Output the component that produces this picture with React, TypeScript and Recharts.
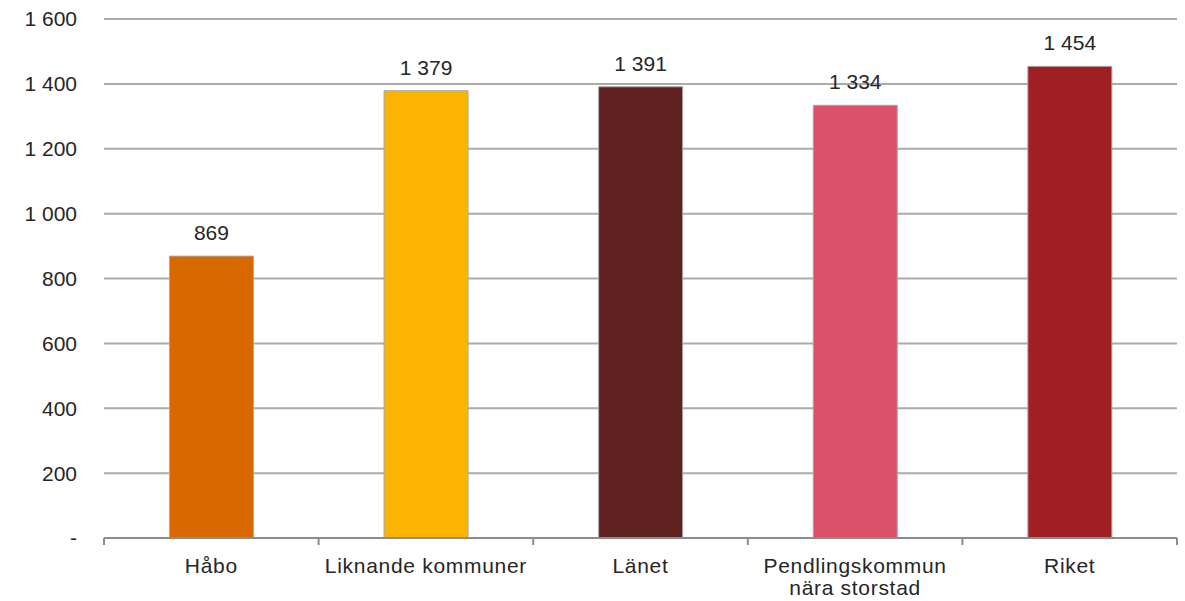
import { BarChart, Bar, XAxis, YAxis, CartesianGrid, Cell, LabelList } from "recharts";

const categories = ["Håbo", "Liknande kommuner", "Länet", "Pendlingskommun\nnära storstad", "Riket"];
const values = [869, 1379, 1391, 1334, 1454];
const barColors = ["#DA6800", "#FDB400", "#5E2120", "#DA526A", "#A01F22"];
const yTicks = [0, 200, 400, 600, 800, 1000, 1200, 1400, 1600];

const data = categories.map((name, i) => ({ name, value: values[i] }));

const FONT = "'Liberation Sans', Arial, sans-serif";
const TEXT = "#262626";
const AXIS = "#8c8c8c";

const fmt = (v: number) => (v === 0 ? "-" : String(v).replace(/\B(?=(\d{3})+(?!\d))/g, " "));

function CategoryTick(props: any) {
  const { x, y, payload, index, visibleTicksCount, width } = props;
  const half = payload.offset ?? width / visibleTicksCount / 2;
  const lines = String(payload.value).split("\n");
  return (
    <g>
      <line x1={x - half} x2={x - half} y1={y} y2={y + 7} stroke={AXIS} strokeWidth={2} />
      {index === visibleTicksCount - 1 && (
        <line x1={x + half} x2={x + half} y1={y} y2={y + 7} stroke={AXIS} strokeWidth={2} />
      )}
      <text
        x={x}
        y={y + 35}
        textAnchor="middle"
        fill={TEXT}
        fontSize={21}
        fontFamily={FONT}
        letterSpacing={0.7}
      >
        {lines.map((l, i) => (
          <tspan key={i} x={x} dy={i === 0 ? 0 : 22}>
            {l}
          </tspan>
        ))}
      </text>
    </g>
  );
}

export default function App() {
  return (
    <div style={{ position: "absolute", left: 0, top: 0, background: "#fff" }}>
      <BarChart
        width={1185}
        height={601}
        data={data}
        margin={{ top: 19, right: 8, left: 0, bottom: 0 }}
        barCategoryGap="30.5%"
      >
        <CartesianGrid vertical={false} stroke="#ababab" strokeWidth={2} />
        <XAxis
          dataKey="name"
          height={63}
          interval={0}
          tickLine={false}
          tickSize={0}
          tickMargin={0}
          axisLine={{ stroke: AXIS, strokeWidth: 2 }}
          tick={<CategoryTick />}
        />
        <YAxis
          width={104}
          domain={[0, 1600]}
          ticks={yTicks}
          interval={0}
          axisLine={false}
          tickLine={false}
          tickSize={0}
          tickMargin={27}
          tickFormatter={fmt}
          tick={{ fill: TEXT, fontSize: 21, fontFamily: FONT }}
        />
        <Bar dataKey="value" isAnimationActive={false} stroke="#a8a8a8" strokeWidth={1}>
          {data.map((d, i) => (
            <Cell key={d.name} fill={barColors[i]} />
          ))}
          <LabelList
            dataKey="value"
            position="top"
            offset={16}
            formatter={(v: any) => fmt(Number(v))}
            fill={TEXT}
            fontSize={21}
            fontFamily={FONT}
          />
        </Bar>
      </BarChart>
    </div>
  );
}
